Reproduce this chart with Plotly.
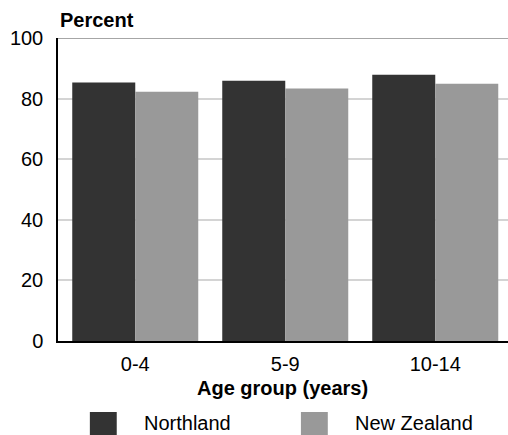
import plotly.graph_objects as go

categories = ["0-4", "5-9", "10-14"]
northland = [85.3, 85.9, 87.9]
new_zealand = [82.3, 83.3, 84.9]
series_names = ["Northland", "New Zealand"]
series_colors = ["#333333", "#999999"]
y_ticks = [0, 20, 40, 60, 80, 100]

FONT = "Liberation Sans, Arial, sans-serif"
L, T, W, H = 58, 38, 452, 303  # plot area in px


def py(px):
    """pixel y -> paper y"""
    return (T + H - px) / H


def pxx(px):
    return (px - L) / W


fig = go.Figure()
for name, vals, col in zip(series_names, [northland, new_zealand], series_colors):
    fig.add_trace(go.Bar(x=categories, y=vals, name=name, marker=dict(color=col, line=dict(width=0)),
                         showlegend=False))

fig.update_layout(
    width=508, height=435,
    margin=dict(l=L, r=0, t=T, b=435 - T - H, autoexpand=False),
    paper_bgcolor="white", plot_bgcolor="white",
    barmode="group", bargap=0.16, bargroupgap=0,
    font=dict(family=FONT, size=20, color="black"),
    xaxis=dict(showline=True, linecolor="black", linewidth=1.5, showgrid=False,
               range=[-0.515, 2.485],
               ticks="", ticklabelstandoff=4, automargin=False),
    yaxis=dict(range=[0, 100], tickvals=y_ticks, showline=True, linecolor="black", linewidth=1.5,
               showgrid=True, gridcolor="#d4d4d4", gridwidth=1.5, zeroline=False,
               ticks="", ticklabelstandoff=9, automargin=False),
)

# top border line at 100
fig.add_shape(type="line", xref="paper", yref="y", x0=0, x1=1, y0=100, y1=100,
              line=dict(color="#888888", width=1.5))

fig.add_annotation(text="<b>Percent</b>", xref="paper", yref="paper", x=0, y=py(20),
                   xanchor="left", yanchor="middle", showarrow=False, font=dict(size=20))

fig.add_annotation(text="<b>Age group (years)</b>", xref="paper", yref="paper", x=pxx(283), y=py(388),
                   xanchor="center", yanchor="middle", showarrow=False, font=dict(size=20))

# legend drawn manually
leg_x = [90, 302]
for i, (name, col) in enumerate(zip(series_names, series_colors)):
    fig.add_shape(type="rect", xref="paper", yref="paper", x0=pxx(leg_x[i]), x1=pxx(leg_x[i] + 27),
                  y0=py(435), y1=py(412), fillcolor=col, line=dict(width=0))
    fig.add_annotation(text=name, xref="paper", yref="paper",
                       x=pxx(leg_x[i] + 52), y=py(423),
                       xanchor="left", yanchor="middle", showarrow=False, font=dict(size=20))

fig.write_html("out.html", config={"displayModeBar": False},
               post_script="document.body.style.margin='0';document.body.style.overflow='hidden';")
